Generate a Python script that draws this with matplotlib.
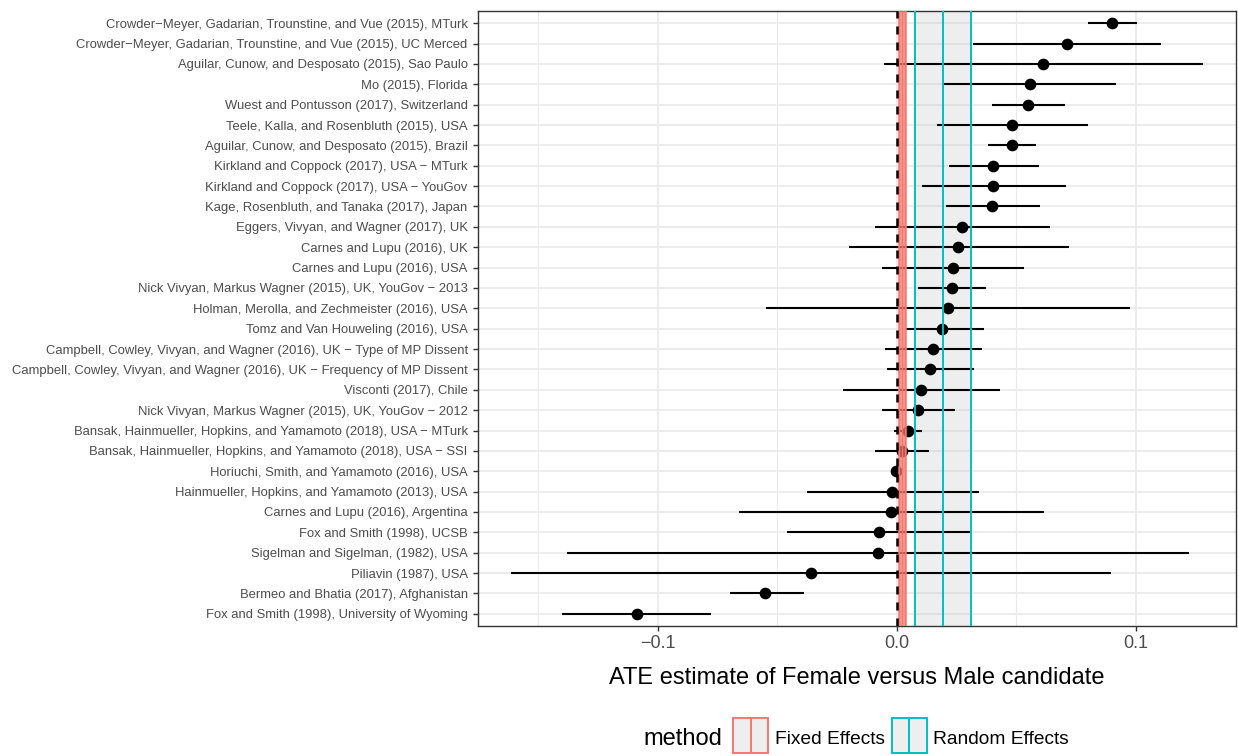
import matplotlib
matplotlib.use("Agg")
import matplotlib.pyplot as plt
from matplotlib.patches import Rectangle
from matplotlib.lines import Line2D

M = "\u2212"
studies = [
    f"Crowder{M}Meyer, Gadarian, Trounstine, and Vue (2015), MTurk",
    f"Crowder{M}Meyer, Gadarian, Trounstine, and Vue (2015), UC Merced",
    "Aguilar, Cunow, and Desposato (2015), Sao Paulo",
    "Mo (2015), Florida",
    "Wuest and Pontusson (2017), Switzerland",
    "Teele, Kalla, and Rosenbluth (2015), USA",
    "Aguilar, Cunow, and Desposato (2015), Brazil",
    f"Kirkland and Coppock (2017), USA {M} MTurk",
    f"Kirkland and Coppock (2017), USA {M} YouGov",
    "Kage, Rosenbluth, and Tanaka (2017), Japan",
    "Eggers, Vivyan, and Wagner (2017), UK",
    "Carnes and Lupu (2016), UK",
    "Carnes and Lupu (2016), USA",
    f"Nick Vivyan, Markus Wagner (2015), UK, YouGov {M} 2013",
    "Holman, Merolla, and Zechmeister (2016), USA",
    "Tomz and Van Houweling (2016), USA",
    f"Campbell, Cowley, Vivyan, and Wagner (2016), UK {M} Type of MP Dissent",
    f"Campbell, Cowley, Vivyan, and Wagner (2016), UK {M} Frequency of MP Dissent",
    "Visconti (2017), Chile",
    f"Nick Vivyan, Markus Wagner (2015), UK, YouGov {M} 2012",
    f"Bansak, Hainmueller, Hopkins, and Yamamoto (2018), USA {M} MTurk",
    f"Bansak, Hainmueller, Hopkins, and Yamamoto (2018), USA {M} SSI",
    "Horiuchi, Smith, and Yamamoto (2016), USA",
    "Hainmueller, Hopkins, and Yamamoto (2013), USA",
    "Carnes and Lupu (2016), Argentina",
    "Fox and Smith (1998), UCSB",
    "Sigelman and Sigelman, (1982), USA",
    "Piliavin (1987), USA",
    "Bermeo and Bhatia (2017), Afghanistan",
    "Fox and Smith (1998), University of Wyoming",
]
estimate = [0.0900, 0.0711, 0.0612, 0.0556, 0.0551, 0.0482, 0.0481, 0.0404, 0.0403, 0.0400,
            0.0275, 0.0258, 0.0234, 0.0230, 0.0213, 0.0190, 0.0152, 0.0139, 0.0100, 0.0090,
            0.0049, 0.0021, -0.0003, -0.0018, -0.0024, -0.0074, -0.0080, -0.0360, -0.0551, -0.1085]
ci_low = [0.0802, 0.0321, -0.0053, 0.0199, 0.0400, 0.0170, 0.0383, 0.0220, 0.0106, 0.0206,
          -0.0090, -0.0198, -0.0060, 0.0090, -0.0548, 0.0034, -0.0049, -0.0039, -0.0223, -0.0060,
          -0.0010, -0.0090, -0.0012, -0.0374, -0.0658, -0.0459, -0.1378, -0.1611, -0.0699, -0.1399]
ci_high = [0.1004, 0.1105, 0.1283, 0.0916, 0.0703, 0.0799, 0.0583, 0.0594, 0.0707, 0.0600,
           0.0643, 0.0720, 0.0534, 0.0374, 0.0975, 0.0364, 0.0358, 0.0323, 0.0434, 0.0244,
           0.0105, 0.0135, 0.0010, 0.0343, 0.0615, 0.0307, 0.1224, 0.0895, -0.0387, -0.0777]

methods = ["Fixed Effects", "Random Effects"]
method_est = [0.0021, 0.0194]
method_low = [0.0009, 0.00766]
method_high = [0.0034, 0.0312]
method_colors = ["#F8766D", "#00BFC4"]

xticks = [-0.1, 0.0, 0.1]
xtick_labels = [f"{M}0.1", "0.0", "0.1"]
minor_xticks = [-0.15, -0.05, 0.05]

plt.rcParams['font.family'] = ['Liberation Sans', 'DejaVu Sans']

W, H = 1238, 756
fig = plt.figure(figsize=(W / 100, H / 100), dpi=100)
L, R, T, B = 477.5, 1236, 11, 626
ax = fig.add_axes([L / W, 1 - B / H, (R - L) / W, (B - T) / H])

n = len(studies)
ypos = list(range(n))

ax.set_xlim(-0.1753, 0.1419)
ax.set_ylim(n - 1 + 0.6, -0.6)

ax.set_xticks(xticks)
ax.set_xticklabels(xtick_labels)
ax.set_xticks(minor_xticks, minor=True)
ax.set_yticks(ypos)
ax.set_yticklabels(studies)

ax.grid(which='major', color='#EBEBEB', lw=1.3, zorder=0)
ax.grid(which='minor', axis='x', color='#EBEBEB', lw=0.8, zorder=0)
ax.set_axisbelow(True)

for s in ax.spines.values():
    s.set_color('#333333')
    s.set_linewidth(1.0)
ax.tick_params(which='major', length=3.6, width=1.0, color='#333333',
               labelcolor='#4D4D4D')
ax.tick_params(which='minor', length=0)
ax.tick_params(axis='y', labelsize=9.4, pad=3.5)
ax.tick_params(axis='x', labelsize=13, pad=3)

# method bands (fill)
for lo, hi in zip(method_low, method_high):
    ax.axvspan(lo, hi, facecolor='#BEBEBE', alpha=0.26, lw=0, zorder=1)

ax.hlines(ypos, ci_low, ci_high, color='black', lw=1.5, zorder=3)
ax.plot(estimate, ypos, 'o', color='black', markersize=7.4, zorder=4)

for est, lo, hi, c, w in zip(method_est, method_low, method_high, method_colors, [1.8, 1.4]):
    for v in (lo, est, hi):
        ax.axvline(v, color=c, lw=w, zorder=5)

ax.axvline(0, color='black', lw=1.8, linestyle=(0, (3.2, 3.2)), zorder=6)

fig.text((L + R) / 2 / W, 1 - 684 / H, "ATE estimate of Female versus Male candidate",
         ha='center', va='baseline', fontsize=17, color='black')

# legend
fig.text(643 / W, 1 - 745 / H, "method", ha='left', va='baseline', fontsize=17)
key_x = [733.3, 891.7]
text_x = [775, 933]
ksz = 35
ky0 = 718
for kx, tx, lab, c in zip(key_x, text_x, methods, method_colors):
    rect = Rectangle((kx / W, 1 - (ky0 + ksz) / H), ksz / W, ksz / H,
                     transform=fig.transFigure, facecolor='#EEEEEE',
                     edgecolor=c, lw=1.4)
    fig.add_artist(rect)
    cx = (kx + ksz / 2) / W
    fig.add_artist(Line2D([cx, cx], [1 - (ky0 + ksz) / H, 1 - ky0 / H],
                          transform=fig.transFigure, color=c, lw=1.4))
    fig.text(tx / W, 1 - 743.5 / H, lab, ha='left', va='baseline', fontsize=13.8)

fig.savefig("out.png", dpi=100)
